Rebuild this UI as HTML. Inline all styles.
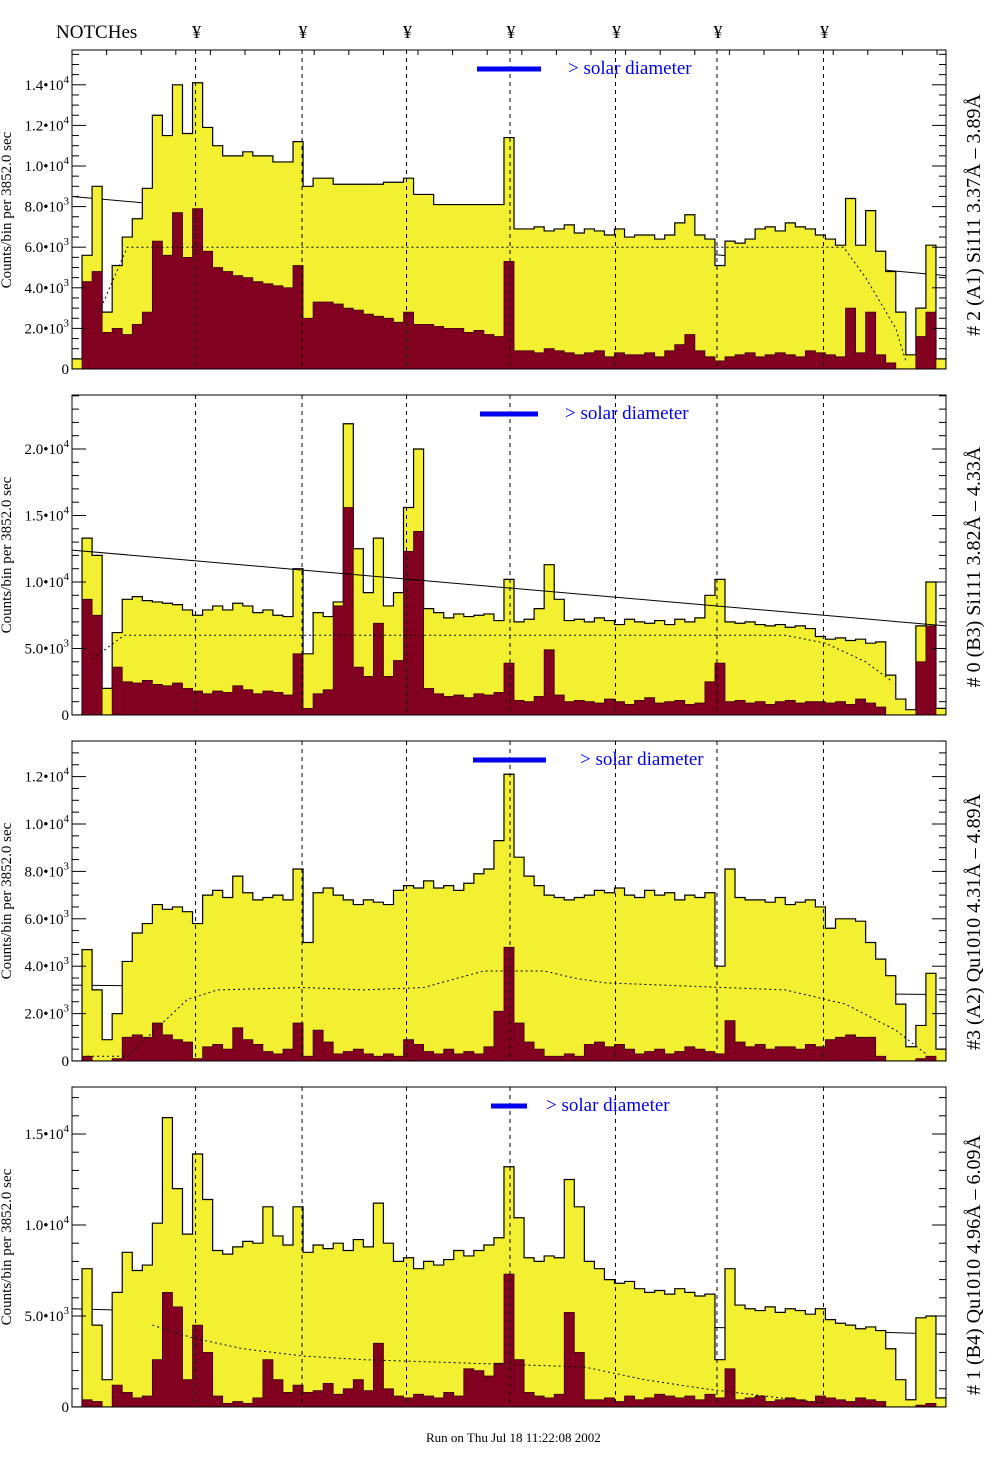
<!DOCTYPE html>
<html><head><meta charset="utf-8">
<style>
html,body{margin:0;padding:0;background:#fff;}
svg{display:block;}
text{font-family:"Liberation Serif",serif;}
</style></head>
<body>
<svg id="chart" width="1004" height="1476" viewBox="0 0 1004 1476" xmlns="http://www.w3.org/2000/svg">
<text x="56" y="38" font-size="19">NOTCHes</text>
<g id="notchMarks"></g>
<g id="panels"></g>
<text x="426" y="1442" font-size="13">Run on Thu Jul 18 11:22:08 2002</text>
</svg>
<script>
// ---- data (thousands of counts per bin, 87 bins) ----
const notchBins = [12.3, 22.9, 33.3, 43.6, 54.1, 64.2, 74.8];
const p1Yellow = [0.5,5.6,9.0,2.8,5.1,6.5,7.4,8.9,12.5,11.5,14.0,11.6,14.1,11.9,11.0,10.5,10.5,10.7,10.5,10.5,10.2,10.2,11.2,9.0,9.4,9.4,9.1,9.1,9.1,9.1,9.1,9.2,9.2,9.4,8.6,8.6,8.1,8.1,8.1,8.1,8.1,8.1,8.1,11.4,6.9,6.9,7.0,6.8,6.9,7.1,6.7,6.9,6.8,6.6,6.9,6.5,6.6,6.6,6.4,6.6,7.2,7.6,6.6,6.4,5.1,6.3,6.2,6.4,6.9,7.0,6.8,7.2,7.0,6.9,6.6,6.4,6.1,8.4,6.1,7.8,5.8,4.8,2.8,0.7,3.0,6.1,0.5];
const p1Red = [0,4.3,4.8,1.8,2.0,1.7,2.2,2.8,6.3,5.6,7.7,5.5,7.9,5.8,5.0,4.8,4.6,4.5,4.3,4.2,4.1,4.0,5.1,2.5,3.3,3.3,3.2,3.0,2.9,2.7,2.6,2.5,2.3,2.8,2.2,2.2,2.1,2.0,2.0,1.8,1.9,1.7,1.6,5.3,0.9,0.9,0.8,1.0,0.9,0.8,0.7,0.8,0.9,0.6,0.8,0.7,0.7,0.8,0.6,0.9,1.2,1.7,0.9,0.6,0.4,0.6,0.7,0.8,0.6,0.7,0.8,0.7,0.6,0.9,0.8,0.7,0.6,3.0,0.8,2.8,0.7,0.3,0,0,1.6,2.8,0];
const p1DashBins = [2.7, 5.5, 76.8, 79, 82, 83];
const p1DashVals = [2.8, 6.0, 6.0, 4.5, 2.0, 0.4];
const p1Line = [8.5, 4.6];

const p2Yellow = [0,13.3,12.0,2.0,6.2,8.7,8.9,8.6,8.5,8.4,8.3,7.9,7.5,7.9,8.2,7.9,8.4,8.2,7.7,7.9,7.5,7.4,11.0,4.6,7.7,7.4,8.5,21.9,12.5,9.2,13.3,8.2,9.2,15.6,20.0,8.0,7.7,7.3,7.6,7.4,7.5,7.6,7.1,10.2,7.0,7.2,8.0,11.3,8.7,7.1,7.2,7.0,7.3,7.1,6.8,7.2,7.0,6.9,7.1,6.8,7.2,7.0,7.3,9.0,10.2,7.0,6.9,7.0,6.8,6.7,6.8,6.6,6.7,6.5,5.9,5.7,5.8,5.6,5.7,5.4,5.5,3.0,1.2,0.4,6.7,10.0,0.5];
const p2Red = [0,8.7,7.5,0,3.6,2.5,2.4,2.6,2.3,2.2,2.4,2.0,1.8,1.6,1.8,1.7,2.2,1.9,1.6,1.8,1.7,1.5,4.6,0.5,1.6,1.9,8.2,15.6,3.6,2.9,6.9,2.9,4.1,12.3,13.8,2.0,1.6,1.4,1.5,1.3,1.6,1.5,1.7,3.9,1.1,1.0,1.4,4.9,1.5,1.0,1.1,1.0,0.9,1.2,1.0,0.8,1.1,1.3,0.9,1.0,1.1,0.8,0.9,2.5,3.9,1.0,1.1,0.9,1.0,0.8,1.0,1.1,0.9,1.0,1.0,0.9,1.0,0.8,1.2,0.9,0.6,0,0,0,4.0,6.7,0];
const p2DashBins = [2.0, 5.2, 71, 75, 79, 81.5];
const p2DashVals = [4.2, 6.0, 6.0, 5.4, 4.0, 2.6];
const p2Line = [12.4, 6.7];

const p3Yellow = [0,4.7,3.0,0.9,2.0,4.2,5.4,5.8,6.6,6.4,6.5,6.3,5.8,7.0,7.2,6.9,7.8,7.1,6.8,6.9,7.0,6.8,8.1,5.0,7.1,7.3,7.0,6.8,6.6,6.8,6.7,6.6,7.2,7.4,7.3,7.6,7.3,7.4,7.2,7.5,7.9,8.1,9.3,12.1,8.6,7.8,7.4,7.0,6.9,6.8,6.9,7.0,7.2,7.1,7.3,7.0,6.9,7.2,7.0,7.1,6.8,7.0,6.9,7.1,4.0,8.1,6.9,6.8,6.8,6.7,6.9,6.6,6.7,6.8,6.5,5.6,6.0,6.0,5.9,5.0,4.3,3.6,2.4,0.6,1.5,3.7,0.5];
const p3Red = [0,0.2,0,0,0.1,1.0,1.1,1.0,1.6,1.1,0.9,0.8,0.1,0.6,0.7,0.5,1.4,0.9,0.7,0.4,0.3,0.5,1.6,0.2,1.3,0.8,0.3,0.4,0.5,0.3,0.2,0.3,0.2,0.9,0.7,0.4,0.3,0.5,0.3,0.4,0.3,0.6,2.1,4.8,1.6,0.8,0.5,0.2,0.2,0.3,0.2,0.7,0.8,0.6,0.7,0.5,0.3,0.4,0.5,0.3,0.4,0.6,0.5,0.4,0.3,1.7,0.8,0.6,0.7,0.5,0.6,0.6,0.5,0.7,0.6,0.9,1.0,1.1,1.0,1.0,0.2,0,0,0,0.1,0.2,0];
const p3DashBins = [1.5, 5.5, 8.5, 11.5, 14.5, 23, 29, 35, 41, 47, 50, 53, 65, 71, 77, 82, 85];
const p3DashVals = [0.2, 0.2, 1.4, 2.6, 3.0, 3.1, 3.0, 3.1, 3.8, 3.8, 3.5, 3.3, 3.1, 3.0, 2.4, 1.3, 0.3];
const p3Line = [3.2, 2.8];

const p4Yellow = [0,7.6,4.5,1.5,6.3,8.5,7.5,7.8,10.1,15.9,12.0,9.5,13.9,11.4,8.6,8.4,8.8,9.1,9.0,11.0,9.4,8.9,11.0,8.5,8.9,8.7,9.0,8.6,9.2,8.8,11.2,9.0,8.0,8.2,7.6,8.0,7.8,8.1,8.6,8.3,8.6,8.9,9.3,13.2,10.4,8.2,8.0,8.3,8.2,12.5,11.0,8.0,7.6,7.0,6.8,6.9,6.5,6.3,6.4,6.2,6.5,6.3,6.1,6.2,2.6,7.6,5.6,5.4,5.3,5.5,5.2,5.4,5.3,5.1,5.4,4.8,4.6,4.5,4.3,4.4,4.2,3.2,1.5,0.4,4.9,5.0,0.5];
const p4Red = [0,0.4,0.3,0,1.2,0.8,0.5,0.6,2.6,6.3,5.5,1.5,4.5,3.0,0.6,0.2,0.3,0.2,0.5,2.6,1.5,0.8,1.2,0.8,0.9,1.3,0.7,1.0,1.5,0.9,3.5,1.0,0.6,0.5,0.7,0.6,0.5,0.8,0.6,2.1,2.0,1.7,2.4,7.3,2.6,0.8,0.6,0.5,0.7,5.2,3.0,0.4,0.4,0.5,0.3,0.6,0.4,0.5,0.7,0.6,0.5,0.6,0.4,0.7,0.5,2.1,0.4,0.5,0.6,0.3,0.4,0.5,0.4,0.3,0.6,0.5,0.4,0.3,0.5,0.4,0.3,0,0,0,0.1,0.2,0];
const p4DashBins = [8, 12, 17, 23, 29, 40, 51, 57, 63, 69, 75];
const p4DashVals = [4.5, 3.8, 3.2, 2.8, 2.6, 2.4, 2.2, 1.5, 1.0, 0.6, 0.2];
const p4Line = [5.4, 4.0];

const p1Ticks = ["0","2.0","4.0","6.0","8.0","1.0","1.2","1.4"];
const p2Ticks = ["0","5.0","1.0","1.5","2.0"];
const p3Ticks = ["0","2.0","4.0","6.0","8.0","1.0","1.2"];
const p4Ticks = ["0","5.0","1.0","1.5"];

const titles = ["# 2 (A1) Si111  3.37Å – 3.89Å","# 0 (B3) Si111  3.82Å – 4.33Å","#3 (A2) Qu1010  4.31Å – 4.89Å","# 1 (B4) Qu1010 4.96Å – 6.09Å"];

// ---- layout ----
const NB = 87, X0 = 72, X1 = 946;
const NS = "http://www.w3.org/2000/svg";
function el(tag, attrs, parent){ const e=document.createElementNS(NS,tag); for(const k in attrs) e.setAttribute(k,attrs[k]); if(parent) parent.appendChild(e); return e; }
function xScale(b){ return X0 + b*(X1-X0)/NB; }

const panels = [
 {top:50, zero:369, ppk:20.3, yel:p1Yellow, red:p1Red, db:p1DashBins, dv:p1DashVals, line:p1Line, lineOnTop:false, ticks:p1Ticks, tickStep:2, minor:0.5, solar:[477,541,568], title:titles[0], tcy:215},
 {top:395, zero:715, ppk:13.3, yel:p2Yellow, red:p2Red, db:p2DashBins, dv:p2DashVals, line:p2Line, lineOnTop:true, ticks:p2Ticks, tickStep:5, minor:1, solar:[480,538,565], title:titles[1], tcy:567},
 {top:741, zero:1061, ppk:23.7, yel:p3Yellow, red:p3Red, db:p3DashBins, dv:p3DashVals, line:p3Line, lineOnTop:false, ticks:p3Ticks, tickStep:2, minor:0.5, solar:[473,546,580], title:titles[2], tcy:922},
 {top:1087, zero:1407, ppk:18.2, yel:p4Yellow, red:p4Red, db:p4DashBins, dv:p4DashVals, line:p4Line, lineOnTop:false, ticks:p4Ticks, tickStep:5, minor:1, solar:[491,527,546], title:titles[3], tcy:1265}
];

const root = document.getElementById('panels');
const nm = document.getElementById('notchMarks');
notchBins.forEach(b=>{
  const t = el('text',{x:xScale(b)+1,y:38,'font-size':18,'text-anchor':'middle'},nm);
  t.textContent='¥';
  
  
});

function histPath(vals, yS){
  let d = 'M'+xScale(0)+','+yS(0);
  vals.forEach((v,i)=>{ d+=' L'+xScale(i)+','+yS(v)+' L'+xScale(i+1)+','+yS(v); });
  d += ' L'+xScale(vals.length)+','+yS(0)+' Z';
  return d;
}

panels.forEach((p,pi)=>{
  const g = el('g',{},root);
  
  
  const yS = v => p.zero - v*p.ppk;
  const cid = 'clip'+pi;
  const cp = el('clipPath',{id:cid},g);
  el('rect',{x:X0,y:p.top,width:X1-X0,height:p.zero-p.top},cp);
  const pg = el('g',{'clip-path':'url(#'+cid+')'},g);
  function drawLine(){
    const ln = el('line',{x1:X0,y1:yS(p.line[0]),x2:X1,y2:yS(p.line[1]),stroke:'#000','stroke-width':1},pg);
    
    
  }
  if(!p.lineOnTop) drawLine();
  const yp = el('path',{d:histPath(p.yel,yS),fill:'#f2f030',stroke:'#000','stroke-width':1.2},pg);
  
  
  const rp = el('path',{d:histPath(p.red,yS),fill:'#820020',stroke:'#3a0010','stroke-width':0.8},pg);
  
  
  if(p.lineOnTop) drawLine();
  let dd='';
  p.db.forEach((b,i)=>{ dd += (i?' L':'M')+xScale(b)+','+yS(p.dv[i]); });
  const dp = el('path',{d:dd,fill:'none',stroke:'#000','stroke-width':1,'stroke-dasharray':'2,3'},pg);
  
  
  notchBins.forEach(b=>{
    const nl = el('line',{x1:xScale(b),y1:p.top,x2:xScale(b),y2:p.zero,stroke:'#000','stroke-width':1,'stroke-dasharray':'4,4'},pg);
    
    
  });
  const sb = el('line',{x1:p.solar[0],y1:p.top+19,x2:p.solar[1],y2:p.top+19,stroke:'#0000ee','stroke-width':5},g);
  
  
  const st = el('text',{x:p.solar[2],y:p.top+24,'font-size':19,fill:'#0000ee'},g);
  st.textContent='> solar diameter';
  
  
  const fr = el('rect',{x:X0,y:p.top,width:X1-X0,height:p.zero-p.top,fill:'none',stroke:'#000','stroke-width':1},g);
  
  
  const maxV = (p.zero-p.top)/p.ppk;
  for(let v=0; v<=maxV+1e-6; v+=p.minor){
    const major = Math.abs(v/p.tickStep - Math.round(v/p.tickStep))<1e-6;
    const L = major?14:7, y=yS(v);
    el('line',{x1:X0,y1:y,x2:X0+L,y2:y,stroke:'#000','stroke-width':1},g);
    el('line',{x1:X1,y1:y,x2:X1-L,y2:y,stroke:'#000','stroke-width':1},g);
  }
  if(pi===0){ for(let x=X0; x<=X1; x+=34.6){ el('line',{x1:x,y1:p.top,x2:x,y2:p.top+5,stroke:'#000'},g); } }
  p.ticks.forEach((lab,i)=>{
    const v = i*p.tickStep;
    const t = el('text',{x:69,y:yS(v)+5,'font-size':15,'text-anchor':'end'},g);
    
    
    if(lab==='0'){ t.textContent='0'; }
    else {
      const expo = v>=10?'4':'3';
      t.textContent = lab+'•10';
      const s = el('tspan',{dy:-7,'font-size':11},t); s.textContent=expo;
    }
  });
  const yt = el('text',{x:0,y:0,'font-size':15,'text-anchor':'middle',transform:'translate(11,'+(p.top+160)+') rotate(-90)'},g);
  yt.textContent='Counts/bin per   3852.0 sec';
  
  
  const tt = el('text',{x:0,y:0,'font-size':20,'text-anchor':'middle',transform:'translate(980,'+p.tcy+') rotate(-90)'},g);
  tt.textContent=p.title;
  
  
});
</script>
</body></html>
